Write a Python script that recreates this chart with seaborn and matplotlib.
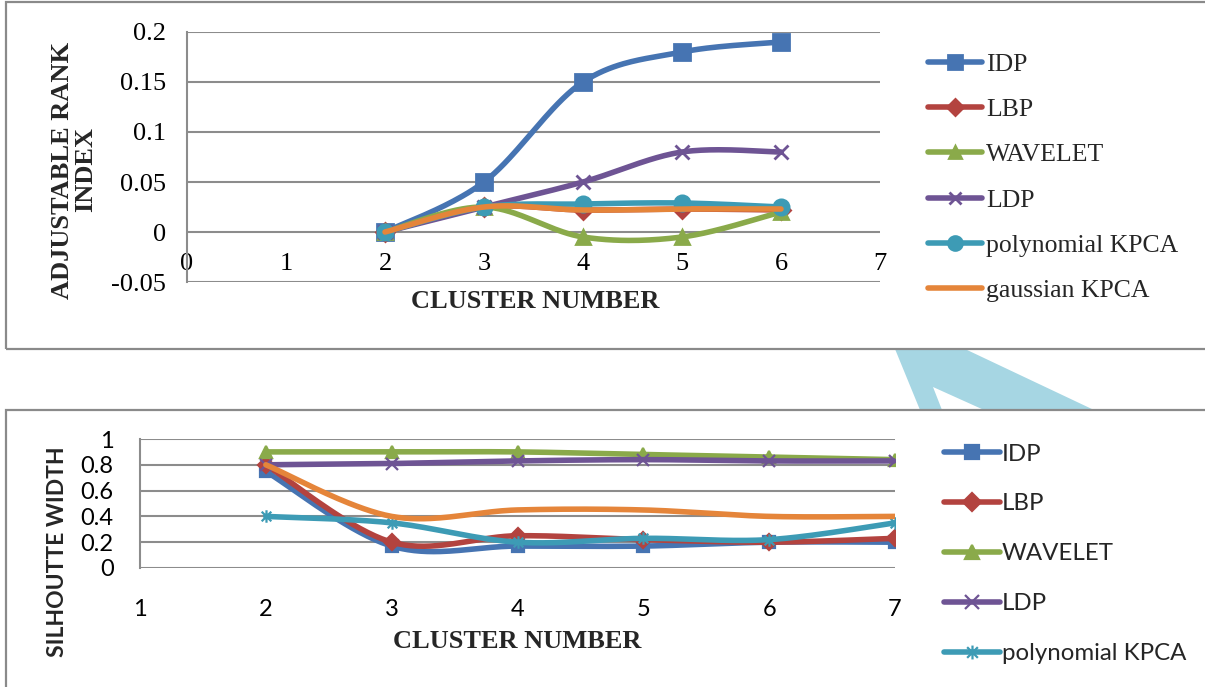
import numpy as np
import matplotlib
matplotlib.use("Agg")
import matplotlib.pyplot as plt
import seaborn as sns
from matplotlib.path import Path
from matplotlib.lines import Line2D
from matplotlib.patches import Rectangle, Polygon

# ---------------- data ----------------
series_names = ["IDP", "LBP", "WAVELET", "LDP", "polynomial KPCA", "gaussian KPCA"]

# Adjustable rank index vs. cluster number
ari_clusters = [2, 3, 4, 5, 6]
ari_idp = [0.0, 0.05, 0.15, 0.18, 0.19]
ari_lbp = [0.0, 0.025, 0.022, 0.023, 0.022]
ari_wavelet = [0.0, 0.025, -0.005, -0.005, 0.02]
ari_ldp = [0.0, 0.025, 0.05, 0.08, 0.08]
ari_poly = [0.0, 0.025, 0.028, 0.029, 0.025]
ari_gauss = [0.0, 0.025, 0.022, 0.023, 0.023]

# Silhouette width vs. cluster number
sil_clusters = [2, 3, 4, 5, 6, 7]
sil_idp = [0.75, 0.17, 0.17, 0.17, 0.2, 0.2]
sil_lbp = [0.8, 0.2, 0.25, 0.22, 0.2, 0.23]
sil_wavelet = [0.9, 0.9, 0.9, 0.88, 0.86, 0.84]
sil_ldp = [0.8, 0.81, 0.83, 0.84, 0.83, 0.83]
sil_poly = [0.4, 0.35, 0.2, 0.23, 0.22, 0.35]
sil_gauss = [0.8, 0.4, 0.45, 0.45, 0.4, 0.4]

ari_ticks_x = [0, 1, 2, 3, 4, 5, 6, 7]
ari_ticks_y = [-0.05, 0, 0.05, 0.1, 0.15, 0.2]
ari_tick_labels_y = ["-0.05", "0", "0.05", "0.1", "0.15", "0.2"]
sil_ticks_x = [1, 2, 3, 4, 5, 6, 7]
sil_ticks_y = [0, 0.2, 0.4, 0.6, 0.8, 1.0]
sil_tick_labels_y = ["0", "0.2", "0.4", "0.6", "0.8", "1"]

# ---------------- style ----------------
colors = ["#4674B2", "#B3433F", "#8AAA4A", "#6E5494", "#3D9BB5", "#E5853A"]

# asterisk marker: an x with a vertical stroke
star_path = Path(
    [(-1, -1), (1, 1), (-1, 1), (1, -1), (0, -1.3), (0, 1.3)],
    [Path.MOVETO, Path.LINETO, Path.MOVETO, Path.LINETO, Path.MOVETO, Path.LINETO],
)
top_markers = ["s", "D", "^", "x", "o", None]
bot_markers = ["s", "D", "^", "x", star_path, None]

sns.set_theme(style="white")
plt.rcParams["font.family"] = ["Liberation Serif", "DejaVu Sans"]

W, H = 1205, 687
fig = plt.figure(figsize=(W / 100, H / 100), dpi=100)


def fx(px):
    return px / W


def fy(py):
    return 1 - py / H


def smooth(x, y, n=40):
    """Cardinal (Catmull-Rom style) Bezier smoothing through the points."""
    x = np.asarray(x, float)
    y = np.asarray(y, float)
    pts = np.column_stack([x, y])
    out = [pts[0]]
    for i in range(len(pts) - 1):
        p0 = pts[i - 1] if i > 0 else pts[i]
        p1 = pts[i]
        p2 = pts[i + 1]
        p3 = pts[i + 2] if i + 2 < len(pts) else pts[i + 1]
        c1 = p1 + (p2 - p0) / 6.0
        c2 = p2 - (p3 - p1) / 6.0
        t = np.linspace(0, 1, n)[1:, None]
        seg = ((1 - t) ** 3) * p1 + 3 * ((1 - t) ** 2) * t * c1 + 3 * (1 - t) * t ** 2 * c2 + t ** 3 * p2
        out.extend(seg)
    out = np.array(out)
    return out[:, 0], out[:, 1]


grid_color = "#8C8C8C"
line_w = 4.0

# decorative arrow shape in the gap between the panels
arrow_px = [(895, 349), (920, 410), (942, 410), (933, 387), (984, 410), (1094, 410), (965, 349)]
fig.patches.append(Polygon([(fx(a), fy(b)) for a, b in arrow_px], closed=True,
                           transform=fig.transFigure, facecolor="#A6D6E3", edgecolor="none", zorder=0))

# panel frames
fig.patches.append(Rectangle((fx(6), fy(349)), fx(1215) - fx(6), fy(2) - fy(349),
                             transform=fig.transFigure, facecolor="none", edgecolor="#8A8A8A", lw=1.6))
fig.patches.append(Rectangle((fx(6), fy(700)), fx(1215) - fx(6), fy(410) - fy(700),
                             transform=fig.transFigure, facecolor="none", edgecolor="#8A8A8A", lw=1.6))

# ================= top panel =================
ax1 = fig.add_axes([fx(187), fy(282), fx(880) - fx(187), fy(32) - fy(282)])
ax1.set_facecolor("none")
ari_series = [ari_idp, ari_lbp, ari_wavelet, ari_ldp, ari_poly, ari_gauss]
msz_top = [11, 9, 10, 10, 11, 0]
for i, (name, vals) in enumerate(zip(series_names, ari_series)):
    xs, ys = smooth(ari_clusters, vals)
    sns.lineplot(x=xs, y=ys, ax=ax1, color=colors[i], lw=line_w, sort=False,
                 estimator=None, legend=False, zorder=3 + i)
    if top_markers[i] is not None:
        ax1.plot(ari_clusters, vals, ls="none", marker=top_markers[i], ms=msz_top[i],
                 color=colors[i], mec=colors[i], mew=2.0, zorder=3 + i)

ax1.set_xlim(0, 7)
ax1.set_ylim(-0.05, 0.2)
ax1.set_yticks(ari_ticks_y)
ax1.set_yticklabels(ari_tick_labels_y)
ax1.set_xticks(ari_ticks_x)
for y in ari_ticks_y:
    ax1.axhline(y, color=grid_color, lw=1.5, zorder=1)
for s in ["top", "right", "bottom"]:
    ax1.spines[s].set_visible(False)
ax1.spines["left"].set_color(grid_color)
ax1.spines["left"].set_linewidth(1.5)
ax1.spines["bottom"].set_position(("data", 0))
ax1.tick_params(axis="both", length=0, labelsize=19, colors="black")
ax1.tick_params(axis="x", pad=15)
ax1.tick_params(axis="y", pad=15)
ax1.set_xlabel("")
ax1.set_ylabel("")
fig.text(fx(535), fy(302), "CLUSTER NUMBER", ha="center", va="center",
         fontsize=19, fontweight="bold", family="Liberation Serif")
fig.text(fx(74), fy(170), "ADJUSTABLE RANK\nINDEX", ha="center", va="center", rotation=90,
         fontsize=19, fontweight="bold", family="Liberation Serif", linespacing=1.0)

handles_top = [Line2D([0], [0], color=colors[i], lw=line_w, marker=top_markers[i], ms=msz_top[i] - 1,
                      mec=colors[i], mew=2.0) for i in range(6)]
fig.legend(handles_top, series_names, loc="upper left",
           bbox_to_anchor=(fx(918), fy(43)), frameon=False,
           prop={"family": "Liberation Serif", "size": 18.5},
           handlelength=2.1, handletextpad=0.15, labelspacing=0.86, borderaxespad=0)

# ================= bottom panel =================
ax2 = fig.add_axes([fx(140), fy(568), fx(895) - fx(140), fy(439) - fy(568)])
ax2.set_facecolor("none")
sil_series = [sil_idp, sil_lbp, sil_wavelet, sil_ldp, sil_poly, sil_gauss]
msz_bot = [9, 8, 9, 9, 9, 0]
for i, (name, vals) in enumerate(zip(series_names, sil_series)):
    xs, ys = smooth(sil_clusters, vals)
    sns.lineplot(x=xs, y=ys, ax=ax2, color=colors[i], lw=line_w, sort=False,
                 estimator=None, legend=False, zorder=3 + i)
    if bot_markers[i] is not None:
        ax2.plot(sil_clusters, vals, ls="none", marker=bot_markers[i], ms=msz_bot[i],
                 color=colors[i], mec=colors[i], mew=1.6, zorder=3 + i)

ax2.set_xlim(1, 7)
ax2.set_ylim(0, 1)
ax2.set_xticks(sil_ticks_x)
ax2.set_yticks(sil_ticks_y)
ax2.set_yticklabels(sil_tick_labels_y)
for y in sil_ticks_y:
    ax2.axhline(y, color=grid_color, lw=1.5, zorder=1)
for s in ["top", "right", "bottom"]:
    ax2.spines[s].set_visible(False)
ax2.spines["left"].set_color(grid_color)
ax2.spines["left"].set_linewidth(1.5)
ax2.tick_params(axis="both", length=0, labelsize=17, colors="black")
ax2.tick_params(axis="x", pad=22)
ax2.tick_params(axis="y", pad=19)
for lab in ax2.get_xticklabels() + ax2.get_yticklabels():
    lab.set_family("Lato")
ax2.set_xlabel("")
ax2.set_ylabel("")
fig.text(fx(517), fy(642), "CLUSTER NUMBER", ha="center", va="center",
         fontsize=19, fontweight="bold", family="Liberation Serif")
fig.text(fx(58), fy(552), "SILHOUTTE WIDTH", ha="center", va="center", rotation=90,
         fontsize=16.5, fontweight="bold", family="Lato")

handles_bot = [Line2D([0], [0], color=colors[i], lw=line_w, marker=bot_markers[i], ms=msz_bot[i] + 1,
                      mec=colors[i], mew=1.6) for i in range(5)]
fig.legend(handles_bot, series_names[:5], loc="upper left",
           bbox_to_anchor=(fx(934), fy(434)), frameon=False,
           prop={"family": "Lato", "size": 17.3},
           handlelength=2.35, handletextpad=0.08, labelspacing=1.2, borderaxespad=0)

fig.savefig("out.png", dpi=100)
